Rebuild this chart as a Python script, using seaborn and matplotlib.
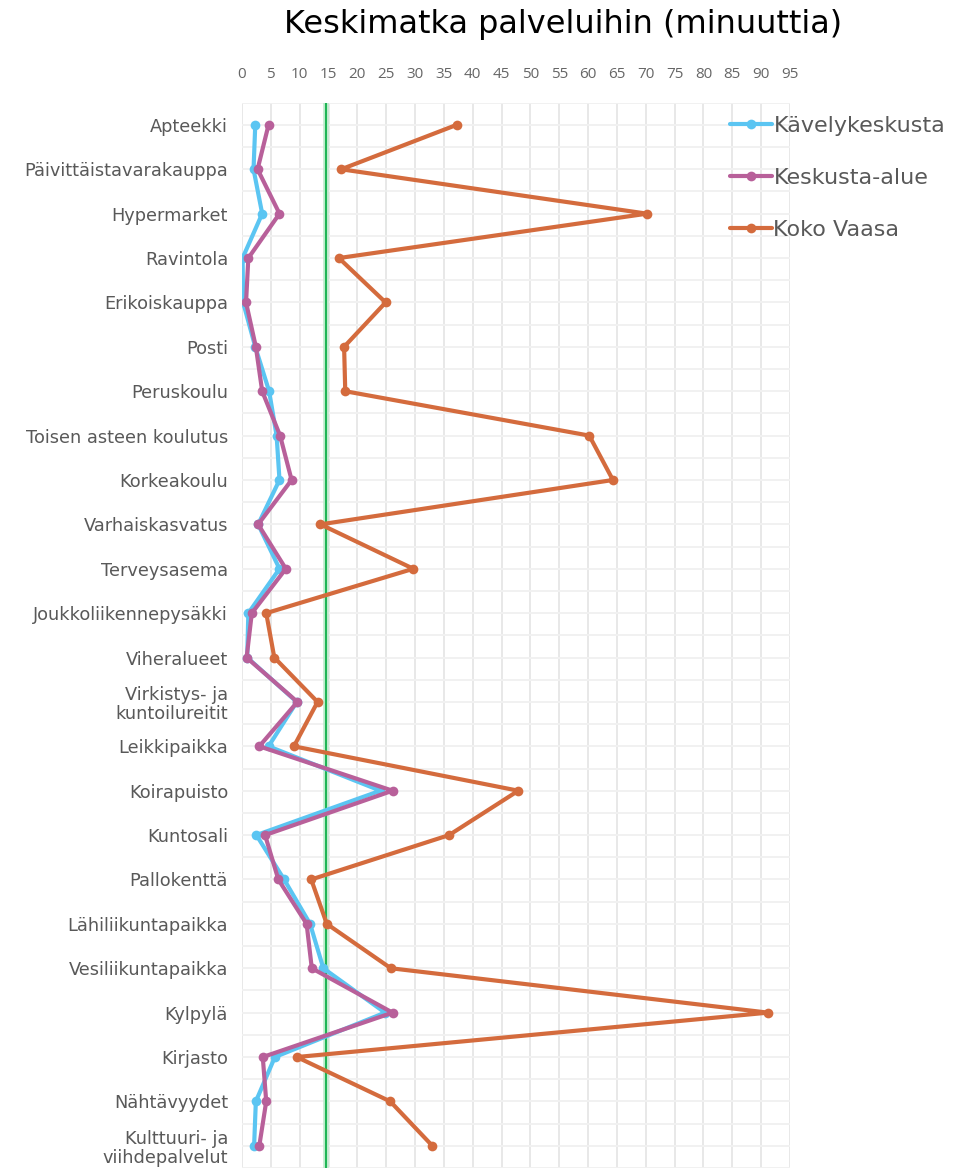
import numpy as np
import pandas as pd
import matplotlib
matplotlib.use("Agg")
import matplotlib.pyplot as plt
import seaborn as sns

categories = [
    "Apteekki", "Päivittäistavarakauppa", "Hypermarket", "Ravintola",
    "Erikoiskauppa", "Posti", "Peruskoulu", "Toisen asteen koulutus",
    "Korkeakoulu", "Varhaiskasvatus", "Terveysasema", "Joukkoliikennepysäkki",
    "Viheralueet", "Virkistys- ja\nkuntoilureitit", "Leikkipaikka", "Koirapuisto",
    "Kuntosali", "Pallokenttä", "Lähiliikuntapaikka", "Vesiliikuntapaikka",
    "Kylpylä", "Kirjasto", "Nähtävyydet", "Kulttuuri- ja\nviihdepalvelut",
]
kavelykeskusta = [2.3, 2.0, 3.5, 0.1, 0.2, 2.3, 4.7, 6.0, 6.5, 2.8, 6.5, 1.1,
                  0.9, 9.5, 4.6, 24.0, 2.5, 7.3, 11.8, 14.1, 24.8, 5.7, 2.4, 2.1]
keskusta_alue = [4.6, 2.7, 6.5, 1.1, 0.7, 2.4, 3.5, 6.6, 8.6, 2.8, 7.6, 1.7,
                 0.8, 9.6, 3.0, 26.1, 4.0, 6.3, 11.2, 12.1, 26.1, 3.6, 4.2, 3.0]
koko_vaasa = [37.2, 17.2, 70.2, 16.8, 24.9, 17.7, 17.9, 60.2, 64.3, 13.6, 29.7, 4.2,
              5.6, 13.1, 9.0, 47.9, 35.9, 12.0, 14.7, 25.8, 91.2, 9.5, 25.7, 33.0]
series_names = ["Kävelykeskusta", "Keskusta-alue", "Koko Vaasa"]
series_colors = ["#5BC5F2", "#B8609A", "#D46B3D"]
xticks = list(range(0, 100, 5))
reference_line = 14.6
title = "Keskimatka palveluihin (minuuttia)"

rows = []
for name, vals in zip(series_names, [kavelykeskusta, keskusta_alue, koko_vaasa]):
    for i, v in enumerate(vals):
        rows.append({"series": name, "pos": i, "value": v})
df = pd.DataFrame(rows)

sns.set_theme(style="white")
plt.rcParams["font.family"] = ["DejaVu Sans"]

fig = plt.figure(figsize=(9.74, 11.68), dpi=100)
ax = fig.add_axes([242 / 974, 0.0, (790 - 242) / 974, 1 - 102.7 / 1168])

# grid
for x in xticks:
    ax.axvline(x, color="#E8E8E8", lw=1.4, zorder=0)
for yv in np.arange(-0.5, len(categories), 0.5):
    ax.axhline(yv, color="#F1F1F1", lw=1.4, zorder=0)

# reference line
ax.axvline(reference_line, color="#BDEBCB", lw=4.0, zorder=1)
ax.axvline(reference_line, color="#10B04A", lw=1.3, zorder=1.1)

sns.lineplot(
    data=df, x="value", y="pos", hue="series", hue_order=series_names,
    palette=dict(zip(series_names, series_colors)), sort=False, estimator=None,
    marker="o", markersize=7, markeredgewidth=0, linewidth=3.0, ax=ax, zorder=3,
)

ax.set_xlim(0, 95)
ax.set_ylim(len(categories) - 0.5, -0.5)
ax.xaxis.tick_top()
ax.set_xticks(xticks)
ax.set_xticklabels([str(t) for t in xticks], fontsize=11, color="#666666",
                   fontfamily="Open Sans")
ax.set_yticks(range(len(categories)))
ax.set_yticklabels(categories, fontsize=12.8, color="#595959", linespacing=1.05)
ax.tick_params(axis="both", length=0)
ax.tick_params(axis="x", pad=15)
ax.tick_params(axis="y", pad=10)
ax.set_xlabel("")
ax.set_ylabel("")
for s in ax.spines.values():
    s.set_visible(False)

sns.move_legend(
    ax, loc="upper left", bbox_to_anchor=(719 / 974, 1 - 105 / 1168),
    bbox_transform=fig.transFigure, frameon=False, title=None, fontsize=16,
    handlelength=1.9, handletextpad=0.05, labelspacing=1.43, borderpad=0,
)
for txt in ax.get_legend().get_texts():
    txt.set_color("#595959")

fig.text(563 / 974, 1 - 24 / 1168, title, ha="center", va="center",
         fontsize=23, color="#000000")

fig.savefig("out.png", dpi=100)
